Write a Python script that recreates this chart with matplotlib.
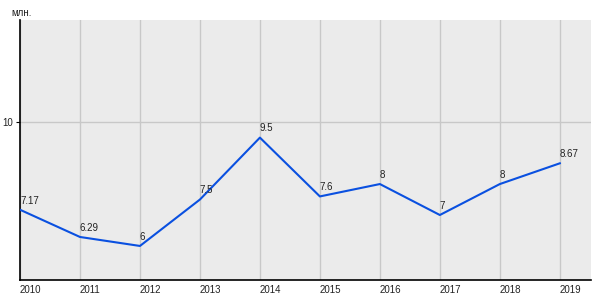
import matplotlib.pyplot as plt

years = [2010, 2011, 2012, 2013, 2014, 2015, 2016, 2017, 2018, 2019]
values = [7.17, 6.29, 6.0, 7.5, 9.5, 7.6, 8.0, 7.0, 8.0, 8.67]
labels = ["7.17", "6.29", "6", "7.5", "9.5", "7.6", "8", "7", "8", "8.67"]

plt.rcParams["font.family"] = ["Liberation Sans", "DejaVu Sans"]

fig = plt.figure(figsize=(6, 3), dpi=100)
ax = fig.add_axes([20 / 600, 20 / 300, 571 / 600, 260 / 300])
ax.set_facecolor("#EBEBEB")

ax.plot(years, values, color="#0A50E0", lw=1.5, zorder=3)
for x, y, t in zip(years, values, labels):
    ax.annotate(t, (x, y), xytext=(0, 3), textcoords="offset points",
                ha="left", va="bottom", fontsize=7, color="#222222", zorder=4)

ax.set_xlim(2010, 2019.52)
ax.set_ylim(4.9, 13.3)
ax.set_xticks(years)
ax.set_xticklabels([str(y) for y in years], ha="left")
ax.set_yticks([10])
ax.tick_params(axis="x", length=0, labelsize=7, pad=3.5, labelcolor="#222222")
ax.tick_params(axis="y", length=3, labelsize=7, pad=2, labelcolor="#222222")
ax.grid(True, color="#C8C8C8", lw=1)
ax.set_axisbelow(True)

for s in ["top", "right"]:
    ax.spines[s].set_visible(False)
for s in ["left", "bottom"]:
    ax.spines[s].set_color("black")
    ax.spines[s].set_linewidth(1.2)

fig.text(11 / 600, 1 - 13 / 300, "млн.", fontsize=7, va="center", ha="left",
         color="#222222")

fig.savefig("out.png", dpi=100)
